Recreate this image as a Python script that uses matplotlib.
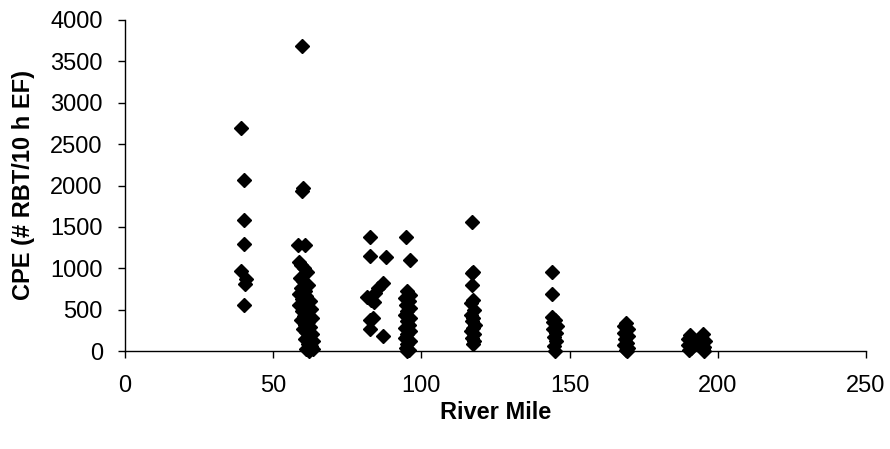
import matplotlib
matplotlib.use("Agg")
import matplotlib.pyplot as plt

plt.rcParams['font.family'] = ['Liberation Sans', 'DejaVu Sans']

# River Mile (x) and CPE (y), grouped by site
rm_40 = [39.0, 40.2, 40.2, 40.2, 39.0, 40.8, 40.5, 40.2]
cpe_40 = [2700, 2070, 1580, 1290, 970, 870, 810, 560]

rm_60 = [59.8, 60.2, 59.8, 58.3, 60.8, 58.6, 59.5, 60.5, 61.5, 59.0, 60.2, 61.8,
         59.3, 60.7, 58.6, 61.2, 59.6, 62.3, 60.0, 58.8, 61.0, 62.6, 59.8, 61.4,
         60.3, 63.0, 59.4, 61.8, 60.6, 62.4, 59.9, 61.2, 63.2, 62.0, 60.6, 63.5,
         61.6, 62.8, 61.0, 62.2, 63.5]
cpe_60 = [3680, 1970, 1930, 1280, 1280, 1080, 1040, 1000, 960, 880, 840, 800,
          760, 730, 690, 660, 630, 600, 580, 560, 540, 510, 480, 450,
          420, 400, 380, 350, 320, 290, 260, 230, 200, 170, 140, 120,
          90, 60, 30, 0, 20]

rm_85 = [82.8, 82.8, 88.0, 87.2, 85.4, 84.5, 81.5, 83.0, 84.0, 83.6, 82.8, 82.7, 87.0]
cpe_85 = [1380, 1150, 1140, 820, 760, 700, 650, 620, 590, 400, 370, 260, 180]

rm_95 = [94.8, 96.2, 95.0, 96.0, 94.5, 95.8, 94.8, 96.3, 95.2, 94.4, 96.0, 95.0,
         95.8, 94.6, 96.2, 95.2, 94.5, 96.0, 95.3, 94.8, 95.8, 95.0]
cpe_95 = [1380, 1100, 720, 680, 640, 600, 560, 520, 480, 440, 400, 360,
          320, 280, 240, 200, 160, 120, 80, 40, 10, 0]

rm_118 = [117.0, 117.5, 117.2, 117.0, 117.3, 116.6, 117.8, 116.8, 117.5, 117.0,
          118.0, 117.4, 116.9, 117.8, 117.2, 117.6, 117.4]
cpe_118 = [1560, 960, 940, 800, 620, 580, 500, 440, 400, 360,
           320, 280, 240, 200, 160, 120, 80]

rm_145 = [144.2, 144.2, 144.0, 145.2, 144.5, 145.6, 144.4, 145.3, 144.8, 145.5, 144.6, 145.0]
cpe_145 = [960, 690, 410, 380, 350, 300, 260, 220, 170, 120, 60, 0]

rm_170 = [169.0, 168.5, 169.6, 168.4, 169.8, 168.8, 169.5, 168.4, 169.8, 169.0, 169.2]
cpe_170 = [340, 300, 260, 220, 180, 140, 100, 70, 40, 10, 0]

rm_190 = [190.5, 190.0, 191.2, 189.8, 190.8, 190.2]
cpe_190 = [190, 140, 110, 70, 40, 10]

rm_195 = [195.0, 194.5, 195.6, 194.8, 195.5, 195.0, 195.3]
cpe_195 = [200, 150, 120, 80, 50, 20, 0]

river_mile = rm_40 + rm_60 + rm_85 + rm_95 + rm_118 + rm_145 + rm_170 + rm_190 + rm_195
cpe = cpe_40 + cpe_60 + cpe_85 + cpe_95 + cpe_118 + cpe_145 + cpe_170 + cpe_190 + cpe_195

x_ticks = [0, 50, 100, 150, 200, 250]
y_ticks = [0, 500, 1000, 1500, 2000, 2500, 3000, 3500, 4000]

fig = plt.figure(figsize=(8.9, 4.49), dpi=100)
ax = fig.add_axes([125 / 890, 1 - 351 / 449, (866 - 125) / 890, (351 - 20) / 449])

ax.plot(river_mile, cpe, linestyle='none', marker='D', markersize=7.3,
        color='black', markeredgecolor='black', clip_on=False)

ax.set_xlim(0, 250)
ax.set_ylim(0, 4000)
ax.set_xticks(x_ticks)
ax.set_yticks(y_ticks)
ax.tick_params(axis='both', direction='out', length=5, width=1, labelsize=17, color='black')
ax.tick_params(axis='x', pad=12)
ax.tick_params(axis='y', pad=11)

for s in ['top', 'right']:
    ax.spines[s].set_visible(False)
for s in ['left', 'bottom']:
    ax.spines[s].set_linewidth(1)
    ax.spines[s].set_color('black')

ax.set_xlabel('River Mile', fontsize=17, fontweight='bold', labelpad=3)
ax.set_ylabel('CPE (# RBT/10 h EF)', fontsize=17, fontweight='bold', labelpad=11)

fig.savefig('out.png', dpi=100)
